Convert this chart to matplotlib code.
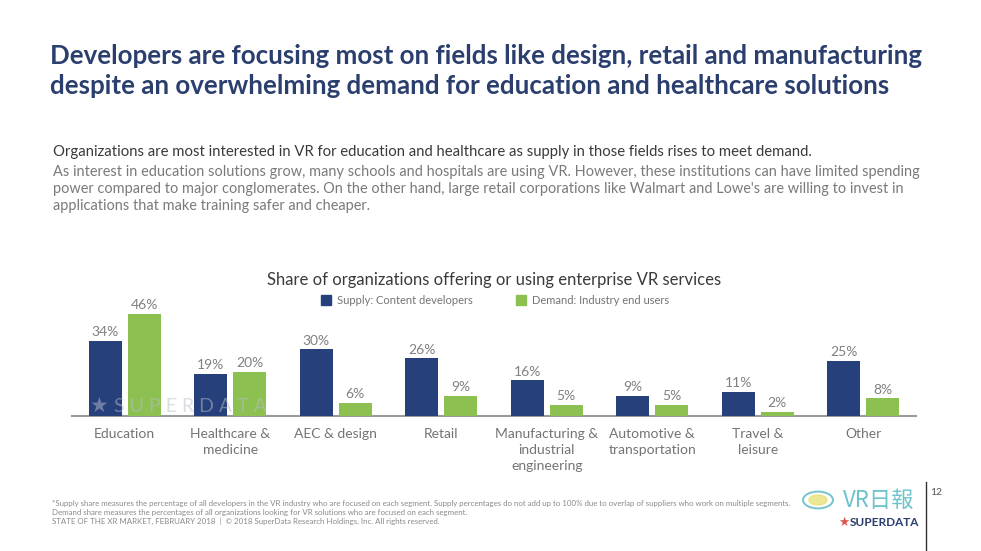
import numpy as np
import matplotlib.pyplot as plt
from matplotlib.patches import Rectangle, Circle

# ==== Data ====
categories = ["Education", "Healthcare &\nmedicine", "AEC & design", "Retail",
              "Manufacturing &\nindustrial\nengineering", "Automotive &\ntransportation",
              "Travel &\nleisure", "Other"]
supply = [34, 19, 30, 26, 16, 9, 11, 25]
demand = [46, 20, 6, 9, 5, 5, 2, 8]
series_names = ["Supply: Content developers", "Demand: Industry end users"]

# ==== Style ====
navy = "#26407c"
green = "#8cc152"
title_col = "#2b3f6e"
gray_txt = "#747474"
font = "Lato"

W, H = 981, 551
fig = plt.figure(figsize=(W / 100, H / 100), dpi=100)
fig.patch.set_facecolor("white")


def px(x, y):
    return x / W, 1 - y / H


# ==== Slide header ====
fig.text(*px(50, 64), "Developers are focusing most on fields like design, retail and manufacturing",
         fontsize=18.6, fontweight="bold", color=title_col, family=font, va="baseline")
fig.text(*px(50, 94), "despite an overwhelming demand for education and healthcare solutions",
         fontsize=18.6, fontweight="bold", color=title_col, family=font, va="baseline")

fig.text(*px(53, 156), "Organizations are most interested in VR for education and healthcare as supply in those fields rises to meet demand.",
         fontsize=10.7, color="#3a3a3a", family=font, va="baseline")
body = ["As interest in education solutions grow, many schools and hospitals are using VR. However, these institutions can have limited spending",
        "power compared to major conglomerates. On the other hand, large retail corporations like Walmart and Lowe's are willing to invest in",
        "applications that make training safer and cheaper."]
for i, line in enumerate(body):
    fig.text(*px(53, 176 + i * 17), line, fontsize=10.45, color="#7a7a7a",
             family=font, va="baseline")

# ==== Chart title and legend ====
fig.text(*px(494, 285), "Share of organizations offering or using enterprise VR services",
         fontsize=12, color="#3a3a3a", family=font, ha="center", va="baseline")
for (x0, name, col) in [(321, series_names[0], navy), (516, series_names[1], green)]:
    fig.patches.append(Rectangle(px(x0, 305), 10 / W, 10 / H, transform=fig.transFigure,
                                 color=col))
    fig.text(*px(x0 + 16, 304), name, fontsize=8, color=gray_txt, family=font,
             va="baseline")

# ==== Bars ====
ax = fig.add_axes([72 / W, 1 - 416 / H, 844 / W, 111 / H])
x = np.arange(len(categories))
w = 0.31
off = 0.185
b1 = ax.bar(x - off, supply, w, color=navy, zorder=3)
b2 = ax.bar(x + off, demand, w, color=green, zorder=3)
for bars, vals in [(b1, supply), (b2, demand)]:
    for b, v in zip(bars, vals):
        ax.text(b.get_x() + b.get_width() / 2, v + 1.2, f"{v}%", ha="center", va="bottom",
                fontsize=10, color="#808080", family=font)

ax.set_xlim(-0.5, len(categories) - 0.5)
ax.set_ylim(0, 50)
ax.set_yticks([])
ax.set_xticks(x)
ax.set_xticklabels(categories, fontsize=10, color=gray_txt, family=font,
                   linespacing=1.35)
ax.tick_params(axis="x", length=0, pad=9)
for s in ["top", "right", "left"]:
    ax.spines[s].set_visible(False)
ax.spines["bottom"].set_color("#9a9a9a")
ax.spines["bottom"].set_linewidth(1.5)
ax.patch.set_alpha(0)

# watermark
fig.text(*px(90, 412), "★", fontsize=15, color="#b8bdc9", alpha=0.5,
         family="DejaVu Sans", va="baseline", zorder=0)
fig.text(*px(114, 412), "S U P E R D A T A", fontsize=14, color="#b8bdc9", alpha=0.5,
         family=font, va="baseline", zorder=0)

# ==== Footer ====
foot = ["*Supply share measures the percentage of all developers in the VR industry who are focused on each segment. Supply percentages do not add up to 100% due to overlap of suppliers who work on multiple segments.",
        "Demand share measures the percentages of all organizations looking for VR solutions who are focused on each segment.",
        "STATE OF THE XR MARKET, FEBRUARY 2018  |  © 2018 SuperData Research Holdings, Inc. All rights reserved."]
for i, line in enumerate(foot):
    fig.text(*px(52, 506 + i * 9), line, fontsize=5.7, color="#8a8a8a", family=font,
             va="baseline", zorder=1)

# logo area
fig.patches.append(Circle(px(818, 500), 15 / W, transform=fig.transFigure, fill=False,
                          ec="#7cc6cf", lw=1.5))
fig.patches.append(Circle(px(818, 500), 9 / W, transform=fig.transFigure,
                          color="#e6e27a", alpha=0.8))
fig.text(*px(843, 507), "VR日報", fontsize=16, color="#6cc3cc", va="baseline",
         family=["Noto Sans CJK SC", "DejaVu Sans"])
fig.text(*px(838, 526), "★", fontsize=9, color="#d9534f", family="DejaVu Sans", va="baseline")
fig.text(*px(850, 526), "SUPERDATA", fontsize=8.5, color=title_col, fontweight="bold",
         family=font, va="baseline")
fig.text(*px(930, 495), "12", fontsize=7.5, color="#555555", family=font, va="baseline")
fig.lines.append(plt.Line2D([926 / W, 926 / W], [1 - 482 / H, 0], transform=fig.transFigure,
                            color="#333333", lw=1))

fig.savefig("out.png", dpi=100)
